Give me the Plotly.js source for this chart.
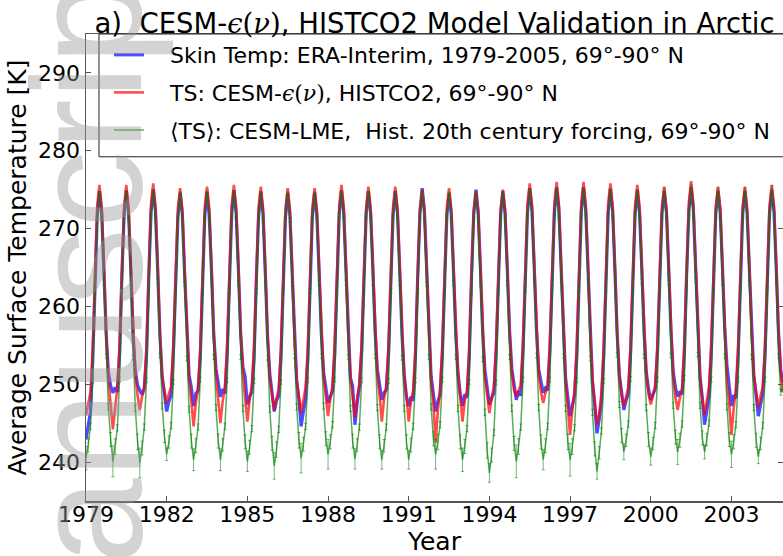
<!DOCTYPE html>
<html><head><meta charset="utf-8">
<script src="https://cdn.plot.ly/plotly-3.0.1.min.js"></script>
<style>html,body{margin:0;padding:0;overflow:hidden;background:#fff}#chart{width:784px;height:556px}</style>
</head><body><div id="chart"></div>
<script>
// Years shown (monthly values Jan..Dec per row)
const years = [1979,1980,1981,1982,1983,1984,1985,1986,1987,1988,1989,1990,1991,1992,1993,1994,1995,1996,1997,1998,1999,2000,2001,2002,2003,2004];
const xTickVals = [1979,1982,1985,1988,1991,1994,1997,2000,2003];
const yTickVals = [240,250,260,270,280,290];

// Skin Temp: ERA-Interim
const eraSkinTemp = [
[242.9,244.5,246.5,253.0,263.5,271.5,274.8,272.0,264.5,256.5,251.5,249.8],
[248.9,249.6,249.0,254.0,264.0,271.8,274.9,272.0,264.8,256.0,251.8,249.9],
[249.2,248.7,249.5,253.8,263.8,272.0,275.0,272.2,264.5,256.2,251.0,249.0],
[246.5,247.8,248.6,254.2,263.2,271.4,274.6,271.8,264.2,256.8,251.2,249.6],
[247.2,248.8,249.2,253.6,263.6,271.6,274.7,271.6,264.6,256.4,252.0,250.4],
[248.4,249.4,248.8,254.0,263.8,271.8,274.9,272.0,264.8,256.6,252.2,251.0],
[247.4,248.4,249.0,253.5,263.4,271.5,274.7,271.9,264.4,256.2,251.4,248.9],
[246.5,247.9,248.5,253.7,263.6,271.4,274.6,271.7,264.3,256.0,250.5,248.0],
[244.6,246.5,248.2,253.4,263.3,271.5,274.6,271.8,264.6,256.5,251.6,249.2],
[247.6,248.4,249.1,254.1,263.9,271.9,274.9,272.1,264.7,256.3,250.8,249.7],
[244.8,247.6,249.7,254.3,264.0,271.8,274.8,272.0,264.9,256.8,251.9,249.8],
[248.0,248.9,249.3,254.0,263.7,271.7,274.8,271.9,264.5,256.4,251.3,248.4],
[247.2,248.4,247.9,253.6,263.9,272.0,275.2,272.3,264.9,256.6,251.0,248.8],
[246.5,247.8,248.7,253.9,263.5,271.6,274.6,271.8,264.4,256.3,251.5,248.7],
[247.2,248.7,248.3,253.5,263.8,271.9,275.0,272.1,264.8,256.7,251.8,249.5],
[247.4,248.2,248.9,254.2,263.9,271.7,274.8,272.0,264.7,256.9,252.0,250.2],
[248.0,249.1,248.5,254.4,264.2,272.1,275.2,272.4,265.1,257.0,251.9,250.3],
[248.9,249.5,249.2,254.5,264.1,272.0,275.3,272.5,265.0,256.6,250.8,248.3],
[245.9,247.2,248.6,253.8,264.0,272.2,275.3,272.3,264.9,256.2,250.2,247.3],
[243.7,245.5,247.8,253.6,263.8,272.0,275.1,272.2,264.8,256.5,251.2,248.6],
[246.7,247.9,248.8,254.0,263.9,271.8,274.9,272.0,264.9,256.8,251.6,249.4],
[248.0,248.7,249.4,254.3,264.0,271.9,274.9,272.1,265.0,256.9,251.7,249.6],
[248.4,249.1,248.7,254.1,264.2,272.2,275.4,272.5,265.2,256.7,250.9,248.2],
[244.8,246.6,248.5,253.9,264.0,271.9,274.9,272.1,265.0,257.2,252.4,249.9],
[247.2,248.6,248.2,253.7,263.9,271.8,274.9,272.0,264.8,256.5,251.0,248.6],
[245.9,247.4,248.8,254.0,264.1,272.0,275.0,272.2,264.9,256.7,251.8,250.2]
];

// TS: CESM-eps(nu), HISTCO2
const cesmEpsTS = [
[246.0,247.5,249.0,254.6,265.2,273.0,275.6,272.8,265.2,256.4,250.6,247.8],
[244.2,247.0,249.6,255.0,265.0,272.9,275.6,272.6,265.0,256.8,251.2,248.6],
[246.7,248.4,249.4,254.8,265.4,273.1,275.8,272.9,265.3,256.4,250.8,249.0],
[247.6,248.8,249.7,255.2,264.9,272.6,275.2,272.4,264.8,256.2,250.4,247.9],
[244.6,247.6,249.3,254.7,265.1,272.8,275.4,272.6,265.1,256.6,251.0,248.2],
[245.0,247.9,249.5,255.1,265.3,273.0,275.6,272.8,265.2,256.7,251.3,248.4],
[245.2,248.0,249.8,254.9,265.0,272.8,275.4,272.6,265.0,256.3,250.7,248.5],
[246.7,248.2,249.4,254.6,264.8,272.6,275.2,272.4,264.9,256.2,250.6,248.3],
[246.3,248.0,249.6,254.8,264.9,272.7,275.2,272.5,265.1,256.7,251.1,248.4],
[245.9,248.1,249.8,255.3,265.3,273.0,275.6,272.8,265.3,256.6,250.9,248.2],
[245.7,248.3,250.0,255.2,265.1,272.8,275.4,272.7,265.3,256.9,251.2,248.6],
[245.2,248.1,249.7,255.0,265.0,272.8,275.4,272.6,265.0,256.5,250.8,248.3],
[245.2,247.8,249.2,254.7,264.9,272.5,275.0,272.3,264.8,256.3,250.5,247.5],
[242.5,246.6,249.3,254.9,265.0,272.7,275.2,272.5,265.0,256.6,251.0,248.4],
[245.2,247.9,249.1,254.6,264.7,272.3,274.8,272.2,264.8,256.5,250.9,248.6],
[246.3,248.3,249.6,255.0,264.9,272.5,275.0,272.4,265.0,256.8,251.4,249.2],
[248.4,249.2,249.9,255.4,265.4,273.2,275.8,273.0,265.5,257.0,251.3,249.0],
[247.6,248.9,249.8,255.3,265.5,273.3,276.0,273.1,265.4,256.5,250.4,247.0],
[243.5,246.8,249.2,255.1,265.5,273.3,276.0,273.0,265.3,256.4,250.8,248.0],
[244.8,246.2,248.9,254.8,265.3,273.2,275.8,272.9,265.2,256.6,251.0,248.5],
[247.2,248.4,249.6,255.0,265.1,273.0,275.6,272.8,265.2,256.8,251.2,248.7],
[247.4,248.6,249.8,255.2,265.0,272.9,275.4,272.6,265.1,256.6,250.9,248.3],
[246.7,248.2,249.5,255.3,265.5,273.4,276.1,273.2,265.5,256.9,250.8,248.1],
[246.1,247.9,249.7,255.1,265.0,272.9,275.4,272.6,265.1,256.4,250.2,247.4],
[243.5,246.9,249.4,254.9,265.0,272.8,275.4,272.6,265.0,256.6,251.2,248.9],
[247.0,248.5,249.7,255.1,265.2,273.0,275.6,272.8,265.2,256.7,251.6,249.0]
];

// <TS>: CESM-LME, Hist. 20th century forcing
const cesmLmeTS = [
[240.5,242.2,244.6,250.4,262.1,271.6,274.6,271.3,263.1,253.6,247.1,242.9],
[240.1,242.0,244.4,250.6,262.0,271.5,274.6,271.2,263.0,253.4,246.9,242.6],
[239.9,241.8,244.5,250.5,262.2,271.7,274.8,271.4,263.2,253.7,247.2,243.3],
[241.0,242.6,244.7,250.3,261.9,271.4,274.5,271.1,262.9,253.3,246.8,242.7],
[240.3,242.1,244.5,250.6,262.1,271.6,274.6,271.3,263.1,253.5,247.0,242.7],
[240.3,242.2,244.6,250.5,262.0,271.6,274.7,271.3,263.0,253.5,246.9,242.6],
[240.1,241.9,244.3,250.4,262.0,271.5,274.6,271.2,263.0,253.4,246.8,242.4],
[239.5,241.6,244.2,250.3,261.9,271.4,274.5,271.1,262.9,253.6,247.1,242.8],
[240.5,242.3,244.6,250.5,262.0,271.5,274.5,271.2,263.0,253.6,247.2,243.0],
[241.0,242.6,244.8,250.6,262.2,271.7,274.7,271.3,263.1,253.5,246.9,242.7],
[240.4,242.2,244.5,250.5,262.1,271.6,274.6,271.3,263.1,253.6,247.0,242.6],
[240.3,242.1,244.5,250.4,262.0,271.5,274.6,271.2,263.0,253.4,246.9,242.6],
[240.3,242.2,244.6,250.5,262.0,271.4,274.5,271.1,262.9,253.5,247.1,243.0],
[241.0,242.6,244.8,250.6,262.1,271.5,274.5,271.2,263.0,253.5,246.9,242.6],
[240.3,242.0,244.3,250.3,261.8,271.3,274.3,271.0,262.8,253.2,246.4,241.5],
[238.6,240.9,243.8,250.2,261.9,271.5,274.6,271.2,263.0,253.5,246.9,242.4],
[240.1,242.0,244.5,250.6,262.2,271.8,274.9,271.5,263.3,253.7,247.0,242.6],
[240.3,242.1,244.6,250.6,262.3,271.9,275.0,271.6,263.3,253.6,246.9,242.6],
[240.3,242.0,244.4,250.5,262.2,271.8,275.0,271.6,263.2,253.3,246.4,241.7],
[238.8,241.2,244.0,250.4,262.1,271.8,274.9,271.5,263.3,253.8,247.4,243.4],
[241.3,242.8,244.9,250.7,262.1,271.7,274.8,271.4,263.2,253.6,247.0,242.9],
[240.7,242.4,244.7,250.6,262.1,271.6,274.7,271.3,263.1,253.7,247.3,243.2],
[241.3,242.8,244.9,250.8,262.4,272.0,275.2,271.7,263.4,253.8,247.3,243.1],
[241.3,242.9,245.0,250.6,262.0,271.6,274.7,271.3,263.1,253.6,247.1,242.9],
[241.0,242.6,244.8,250.6,262.1,271.6,274.7,271.3,263.1,253.5,247.0,242.8],
[240.7,242.4,244.7,250.6,262.2,271.7,274.9,271.5,263.2,253.6,249.0,249.5]
];

// Ensemble spread (error bars) for <TS>
const cesmLmeErr = [
[1.5,0.9,0.4,0.3,0.3,0.2,0.2,0.2,0.3,0.3,0.4,0.9],
[2.0,1.0,0.4,0.3,0.3,0.2,0.2,0.2,0.3,0.3,0.4,1.0],
[1.9,0.9,0.4,0.3,0.3,0.2,0.2,0.2,0.3,0.3,0.4,0.8],
[0.8,0.8,0.4,0.3,0.3,0.2,0.2,0.2,0.3,0.3,0.4,0.9],
[1.4,0.9,0.4,0.3,0.3,0.2,0.2,0.2,0.3,0.3,0.4,0.9],
[1.4,0.8,0.4,0.3,0.3,0.2,0.2,0.2,0.3,0.3,0.4,0.9],
[1.3,0.9,0.4,0.3,0.3,0.2,0.2,0.2,0.3,0.3,0.4,0.9],
[1.7,1.0,0.4,0.3,0.3,0.2,0.2,0.2,0.3,0.3,0.4,1.0],
[1.9,0.9,0.4,0.3,0.3,0.2,0.2,0.2,0.3,0.3,0.4,0.9],
[1.9,0.9,0.4,0.3,0.3,0.2,0.2,0.2,0.3,0.3,0.4,0.9],
[1.3,0.8,0.4,0.3,0.3,0.2,0.2,0.2,0.3,0.3,0.4,0.9],
[1.2,0.8,0.4,0.3,0.3,0.2,0.2,0.2,0.3,0.3,0.4,0.9],
[1.2,0.9,0.4,0.3,0.3,0.2,0.2,0.2,0.3,0.3,0.4,0.9],
[1.9,1.0,0.4,0.3,0.3,0.2,0.2,0.2,0.3,0.3,0.4,0.9],
[1.5,0.9,0.4,0.3,0.3,0.2,0.2,0.2,0.3,0.3,0.4,1.0],
[1.2,0.9,0.4,0.3,0.3,0.2,0.2,0.2,0.3,0.3,0.4,0.9],
[2.1,1.0,0.4,0.3,0.3,0.2,0.2,0.2,0.3,0.3,0.4,0.9],
[1.3,0.9,0.4,0.3,0.3,0.2,0.2,0.2,0.3,0.3,0.4,1.0],
[2.1,1.0,0.4,0.3,0.3,0.2,0.2,0.2,0.3,0.3,0.4,0.9],
[1.0,0.8,0.4,0.3,0.3,0.2,0.2,0.2,0.3,0.3,0.4,0.9],
[1.0,0.8,0.4,0.3,0.3,0.2,0.2,0.2,0.3,0.3,0.4,0.9],
[1.1,0.8,0.4,0.3,0.3,0.3,0.5,0.2,0.3,0.3,0.4,0.9],
[1.6,0.9,0.4,0.3,0.3,0.3,0.5,0.2,0.3,0.3,0.4,0.9],
[0.9,0.8,0.4,0.3,0.3,0.3,0.5,0.2,0.3,0.3,0.4,0.9],
[1.7,0.9,0.4,0.3,0.3,0.3,0.5,0.2,0.3,0.3,0.4,0.9],
[0.9,0.8,0.4,0.3,0.3,0.3,0.6,0.2,0.3,0.3,0.4,0.5]
];

const pad = "\u00a0\u00a0\u00a0";
const legendNames = [
  pad + "Skin Temp: ERA-Interim, 1979-2005, 69°-90° N",
  pad + "TS: CESM-<span style=\"font-family:'DejaVu Serif'\"><i>ϵ</i>(<i>ν</i>)</span>, HISTCO2, 69°-90° N",
  pad + "<span style=\"font-family:'DejaVu Serif'\">⟨</span>TS<span style=\"font-family:'DejaVu Serif'\">⟩</span>: CESM-LME, \u00a0Hist. 20th century forcing, 69°-90° N"
];
const titleText = "a)\u00a0 CESM-<span style=\"font-family:'DejaVu Serif'\"><i>ϵ</i>(<i>ν</i>)</span>, HISTCO2 Model Validation in Arctic";

// month-resolution time coordinate
const time = [];
years.forEach(y => { for (let m = 0; m < 12; m++) time.push(y + m / 12); });
const flat = rows => rows.flat();

const traces = [
  {x: time, y: flat(eraSkinTemp), type: 'scatter', mode: 'lines', name: legendNames[0],
   legendgroup: 'a', line: {color: 'rgba(0,0,255,0.7)', width: 3.2}},
  {x: time, y: flat(cesmEpsTS), type: 'scatter', mode: 'lines', name: legendNames[1],
   legendgroup: 'b', line: {color: 'rgba(255,0,0,0.7)', width: 2.6}},
  {x: time, y: flat(cesmLmeTS), type: 'scatter', mode: 'lines', name: legendNames[2],
   legendgroup: 'c', line: {color: 'rgba(0,128,0,0.65)', width: 1.5},
   error_y: {type: 'data', array: flat(cesmLmeErr), visible: true, color: 'rgba(0,128,0,0.55)', thickness: 1, width: 1.5}}
];

const axisCommon = {
  showline: true, linecolor: '#555', linewidth: 1.5, mirror: 'ticks',
  ticks: 'inside', ticklen: 5, tickcolor: '#555', tickwidth: 1,
  showgrid: false, zeroline: false,
  tickfont: {family: 'DejaVu Sans', size: 22, color: '#000'}
};

const layout = {
  width: 784, height: 556,
  margin: {l: 86, r: 1, t: 34, b: 55},
  paper_bgcolor: '#fff', plot_bgcolor: '#fff',
  font: {family: 'DejaVu Sans', color: '#000'},
  title: {text: titleText, font: {family: 'DejaVu Sans', size: 27.5, color: '#000'},
          x: 0.5, xref: 'paper', y: 0.958, yref: 'container', yanchor: 'middle'},
  xaxis: Object.assign({}, axisCommon, {
    range: [1979, 2004.917], tickvals: xTickVals, ticktext: xTickVals.map(String),
    ticklabelstandoff: -7,
    title: {text: 'Year', font: {family: 'DejaVu Sans', size: 25}, standoff: 0}
  }),
  yaxis: Object.assign({}, axisCommon, {
    range: [235, 295], tickvals: yTickVals, ticktext: yTickVals.map(String),
    title: {text: 'Average Surface Temperature [K]', font: {family: 'DejaVu Sans', size: 25}, standoff: 4}
  }),
  showlegend: true,
  legend: {x: 0.033, y: 1.0, xanchor: 'left', yanchor: 'top', bgcolor: 'rgba(0,0,0,0)',
           borderwidth: 0, traceorder: 'grouped', tracegroupgap: 6,
           font: {family: 'DejaVu Sans', size: 22, color: '#000'}},
  shapes: [{
    type: 'rect', xref: 'paper', yref: 'paper', x0: 0.01865, x1: 1.03, y0: 0.7371, y1: 1.0,
    line: {color: '#222', width: 1}, fillcolor: '#fff', layer: 'above'
  }],
  annotations: [{
    text: 'Manuscript', textangle: -90, showarrow: false,
    xref: 'paper', yref: 'paper', x: 0.002, y: 0.40, xanchor: 'center', yanchor: 'middle',
    font: {family: 'Liberation Sans', size: 155, color: 'rgba(150,150,150,0.42)'}
  }]
};

Plotly.newPlot('chart', traces, layout, {displayModeBar: false, staticPlot: true});
</script>
</body></html>
